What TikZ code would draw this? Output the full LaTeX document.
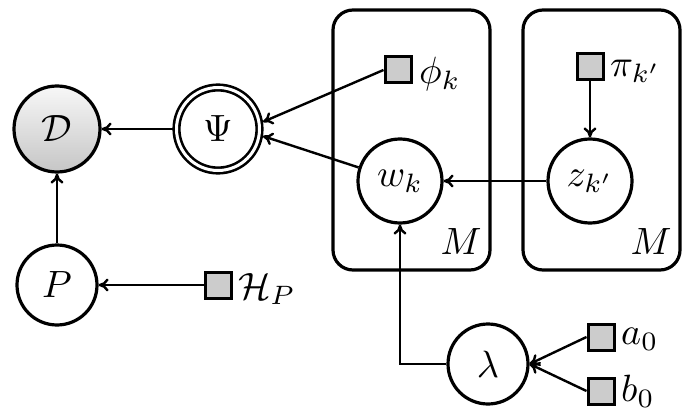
\documentclass[tikz,border=0pt]{standalone}
\usepackage{graphicx}
\usetikzlibrary{arrows.meta}
\newcommand{\mbig}[1]{\scalebox{3.8}{$#1$}}
\begin{document}
\begin{tikzpicture}[x=1pt,y=-1pt,
  var/.style={circle, draw, line width=3.2pt, minimum size=82pt, inner sep=0pt},
  obs/.style={var, top color=gray!6, bottom color=gray!45},
  dvar/.style={circle, draw, line width=2.6pt, double, double distance=3pt, minimum size=83pt, inner sep=0pt, outer sep=4pt},
  fixed/.style={rectangle, draw, line width=3pt, fill=gray!40, minimum size=26pt, inner sep=0pt},
  lab/.style={anchor=west, inner sep=0pt},
  plate/.style={draw, line width=3.2pt, rounded corners=20pt, minimum width=157pt, minimum height=260pt, inner sep=0pt},
  edge/.style={line width=2.4pt, -{To[length=10pt,width=13pt]}}]
\useasboundingbox (0,0) rectangle (687,414);
% plates
\node[plate] (plateA) at (411.5,140) {};
\node[plate] (plateB) at (601.5,140) {};
\node (mA) at (461,242) {\mbig{M}};
\node (mB) at (651,242) {\mbig{M}};
% nodes
\node[obs, minimum size=86pt] (D) at (57,129) {\mbig{\mathcal{D}}};
\node[dvar] (psi) at (218,129) {\mbig{\Psi}};
\node[var, minimum size=80pt] (P) at (57,285) {\mbig{P}};
\node[fixed] (hp) at (218,285) {};
\node[lab] (hpl) at (238,289) {\mbig{\mathcal{H}_P}};
\node[fixed] (phi) at (398,70) {};
\node[lab] (phil) at (419,74) {\mbig{\phi_k}};
\node[var, minimum size=84pt] (w) at (400,181) {\mbig{w_k}};
\node[fixed] (pi) at (590,67) {};
\node[lab] (pil) at (610,71) {\mbig{\pi_{k'}}};
\node[var, minimum size=84pt] (z) at (590,181) {\mbig{z_{k'}}};
\node[var, minimum size=80pt] (lam) at (488,364) {\mbig{\lambda}};
\node[fixed] (a0) at (601,337) {};
\node[lab] (a0l) at (621,339) {\mbig{a_0}};
\node[fixed] (b0) at (601,391) {};
\node[lab] (b0l) at (621,391) {\mbig{b_0}};
% edges
\draw[edge] (psi) -- (D);
\draw[edge] (P) -- (D);
\draw[edge] (hp) -- (P);
\draw[edge] (phi.west) -- (psi.9);
\draw[edge] (w) -- (psi.-9);
\draw[edge] (z) -- (w);
\draw[edge] (pi) -- (z);
\draw[edge] (lam.west) -| (w.south);
\draw[edge] (a0.west) -- (lam.east);
\draw[edge] (b0.west) -- (lam.east);
\end{tikzpicture}
\end{document}
